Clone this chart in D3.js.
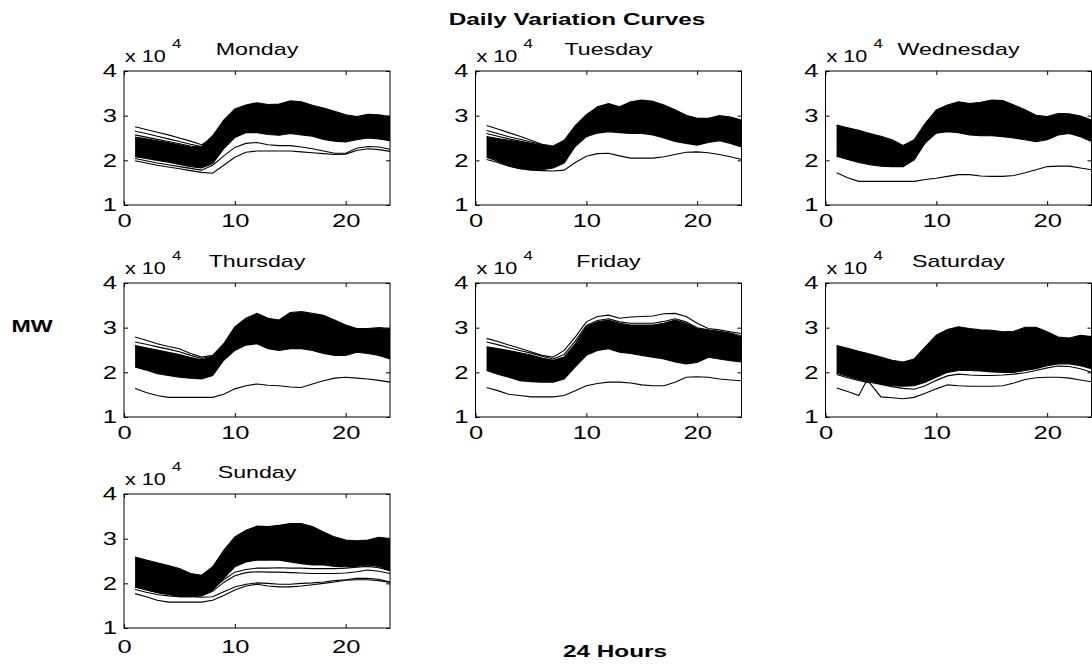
<!DOCTYPE html>
<html>
<head>
<meta charset="utf-8">
<script src="https://cdn.jsdelivr.net/npm/d3@7"></script>
<style>
  html, body { margin: 0; padding: 0; background: #fff; }
  svg { display: block; }
  text { font-family: "Liberation Sans", Arial, sans-serif; fill: #000; }
</style>
</head>
<body>
<script>
// ---------------- DATA ----------------
const hours = [1,2,3,4,5,6,7,8,9,10,11,12,13,14,15,16,17,18,19,20,21,22,23,24];
const dayNames = ["Monday","Tuesday","Wednesday","Thursday","Friday","Saturday","Sunday"];
const xTicks = [0, 10, 20];
const yTicks = [1, 2, 3, 4];
const figTitle = "Daily Variation Curves";
const yLabel = "MW";
const xLabel = "24 Hours";
const scaleNote = "x 10";
const scaleExp = "4";

// dense bundle of curves: upper and lower envelope (x 10^4 MW)
const monTop = [2.52,2.48,2.44,2.40,2.35,2.30,2.31,2.55,2.90,3.15,3.24,3.29,3.25,3.26,3.33,3.31,3.23,3.17,3.10,3.02,2.98,3.03,3.02,2.98];
const monBot = [2.08,2.04,2.00,1.96,1.91,1.86,1.83,1.93,2.26,2.51,2.62,2.62,2.58,2.56,2.60,2.57,2.54,2.47,2.43,2.41,2.46,2.50,2.48,2.44];
const monLines = [
  [2.75,2.69,2.63,2.57,2.50,2.43,2.35,2.50,2.85,3.12,3.22,3.27,3.20,3.22,3.28,3.25,3.18,3.10,3.04,2.96,2.95,2.98,2.96,2.93],
  [2.65,2.60,2.54,2.48,2.42,2.36,2.31,2.48,2.80,3.05,3.15,3.20,3.15,3.17,3.20,3.18,3.10,3.02,2.96,2.90,2.90,2.93,2.92,2.88],
  [2.57,2.52,2.47,2.42,2.37,2.32,2.28,2.45,2.75,3.00,3.10,3.12,3.10,3.10,3.14,3.12,3.05,2.98,2.90,2.85,2.87,2.90,2.88,2.84],
  [2.04,1.99,1.94,1.90,1.86,1.82,1.78,1.89,2.10,2.29,2.38,2.40,2.35,2.33,2.33,2.30,2.26,2.21,2.16,2.16,2.27,2.31,2.30,2.25],
  [1.99,1.94,1.89,1.85,1.81,1.77,1.73,1.71,1.89,2.07,2.18,2.21,2.21,2.21,2.21,2.19,2.17,2.15,2.13,2.14,2.22,2.26,2.24,2.20]
];

const tueTop = [2.53,2.49,2.45,2.41,2.37,2.33,2.31,2.42,2.76,3.01,3.20,3.27,3.20,3.31,3.35,3.32,3.24,3.13,3.01,2.94,2.94,3.00,2.97,2.90];
const tueBot = [2.07,1.98,1.88,1.82,1.79,1.79,1.83,1.94,2.31,2.53,2.61,2.64,2.62,2.60,2.60,2.57,2.50,2.42,2.38,2.34,2.40,2.44,2.38,2.30];
const tueLines = [
  [2.78,2.70,2.62,2.54,2.45,2.36,2.32,2.45,2.78,3.02,3.18,3.25,3.18,3.28,3.32,3.30,3.22,3.11,3.00,2.93,2.93,2.98,2.95,2.88],
  [2.67,2.60,2.53,2.47,2.41,2.35,2.30,2.42,2.72,2.98,3.12,3.20,3.12,3.20,3.25,3.22,3.15,3.05,2.95,2.88,2.88,2.93,2.90,2.84],
  [2.60,2.54,2.48,2.43,2.38,2.33,2.29,2.40,2.70,2.95,3.08,3.14,3.08,3.14,3.18,3.16,3.10,3.00,2.91,2.85,2.85,2.90,2.87,2.80],
  [2.02,1.95,1.87,1.81,1.78,1.77,1.76,1.78,1.95,2.09,2.15,2.16,2.10,2.05,2.05,2.05,2.08,2.13,2.18,2.19,2.17,2.13,2.08,2.02]
];

const wedTop = [2.79,2.73,2.67,2.60,2.54,2.46,2.33,2.46,2.83,3.13,3.24,3.31,3.27,3.30,3.35,3.34,3.24,3.13,3.01,2.98,3.05,3.04,2.99,2.90];
const wedBot = [2.09,2.02,1.95,1.90,1.87,1.86,1.86,2.01,2.39,2.61,2.64,2.62,2.57,2.55,2.55,2.53,2.50,2.46,2.42,2.46,2.57,2.60,2.53,2.42];
const wedLines = [
  [1.72,1.61,1.53,1.53,1.53,1.53,1.53,1.53,1.57,1.60,1.64,1.68,1.68,1.65,1.64,1.64,1.66,1.72,1.79,1.86,1.87,1.87,1.83,1.79]
];

const thuTop = [2.60,2.55,2.50,2.45,2.40,2.33,2.28,2.35,2.62,3.00,3.20,3.30,3.20,3.16,3.32,3.34,3.30,3.26,3.15,3.05,2.97,2.97,2.98,2.96];
const thuBot = [2.12,2.05,1.97,1.93,1.89,1.87,1.85,1.93,2.27,2.49,2.61,2.64,2.53,2.49,2.53,2.53,2.49,2.42,2.38,2.38,2.45,2.42,2.38,2.30];
const thuLines = [
  [2.79,2.72,2.64,2.58,2.53,2.42,2.34,2.38,2.64,3.02,3.21,3.32,3.21,3.17,3.34,3.36,3.32,3.28,3.17,3.06,2.98,2.98,3.00,2.98],
  [2.68,2.63,2.57,2.52,2.46,2.38,2.31,2.36,2.62,3.00,3.19,3.30,3.19,3.15,3.31,3.33,3.29,3.25,3.14,3.04,2.96,2.96,2.97,2.95],
  [1.64,1.55,1.48,1.44,1.44,1.44,1.44,1.44,1.51,1.63,1.70,1.74,1.71,1.70,1.67,1.66,1.74,1.81,1.87,1.89,1.87,1.85,1.82,1.78]
];

const friTop = [2.57,2.53,2.49,2.44,2.39,2.32,2.27,2.34,2.64,3.02,3.13,3.17,3.10,3.06,3.06,3.06,3.10,3.17,3.10,2.98,2.94,2.91,2.87,2.79];
const friBot = [2.04,1.96,1.89,1.81,1.79,1.78,1.78,1.85,2.12,2.38,2.49,2.53,2.45,2.42,2.38,2.34,2.30,2.23,2.19,2.22,2.34,2.30,2.26,2.23];
const friLines = [
  [2.76,2.69,2.61,2.54,2.46,2.38,2.34,2.49,2.79,3.13,3.25,3.28,3.21,3.24,3.25,3.26,3.31,3.32,3.25,3.10,2.98,2.95,2.91,2.87],
  [2.68,2.62,2.55,2.49,2.43,2.36,2.30,2.40,2.70,3.05,3.16,3.20,3.13,3.10,3.10,3.10,3.14,3.20,3.13,3.00,2.95,2.92,2.88,2.82],
  [1.66,1.59,1.51,1.48,1.45,1.45,1.45,1.48,1.59,1.70,1.75,1.78,1.78,1.76,1.72,1.70,1.70,1.78,1.89,1.90,1.89,1.85,1.83,1.81]
];

const satTop = [2.60,2.54,2.47,2.41,2.34,2.27,2.23,2.30,2.57,2.83,2.96,3.02,2.98,2.95,2.94,2.91,2.92,3.01,3.01,2.91,2.79,2.77,2.83,2.80];
const satBot = [2.00,1.93,1.85,1.80,1.74,1.70,1.69,1.70,1.78,1.89,2.00,2.04,2.04,2.03,2.01,2.00,2.00,2.04,2.08,2.15,2.19,2.19,2.15,2.08];
const satLines = [
  [1.65,1.57,1.48,1.95,1.90,1.85,1.80,1.82,1.95,2.10,2.20,2.25,2.25,2.24,2.22,2.20,2.20,2.25,2.30,2.32,2.30,2.28,2.25,2.20],
  [1.95,1.88,1.82,1.76,1.45,1.43,1.41,1.44,1.53,1.63,1.72,1.70,1.69,1.69,1.69,1.70,1.76,1.84,1.88,1.89,1.89,1.87,1.83,1.79],
  [1.98,1.91,1.84,1.78,1.73,1.68,1.64,1.62,1.70,1.82,1.92,1.96,1.94,1.93,1.93,1.94,1.96,1.99,2.04,2.10,2.14,2.13,2.08,2.00]
];

const sunTop = [2.59,2.52,2.46,2.40,2.33,2.22,2.18,2.37,2.74,3.04,3.19,3.28,3.27,3.30,3.34,3.34,3.27,3.15,3.04,2.97,2.95,2.97,3.03,3.00];
const sunBot = [1.92,1.85,1.79,1.75,1.70,1.70,1.73,1.85,2.11,2.37,2.48,2.52,2.52,2.52,2.48,2.44,2.41,2.41,2.38,2.37,2.38,2.41,2.38,2.29];
const sunLines = [
  [1.95,1.90,1.84,1.80,1.76,1.74,1.76,1.88,2.08,2.25,2.31,2.34,2.34,2.35,2.34,2.34,2.33,2.33,2.33,2.34,2.36,2.38,2.35,2.28],
  [1.92,1.86,1.80,1.76,1.72,1.71,1.72,1.82,2.02,2.17,2.24,2.26,2.25,2.25,2.24,2.23,2.22,2.22,2.22,2.23,2.26,2.30,2.27,2.22],
  [1.86,1.80,1.75,1.72,1.70,1.70,1.69,1.70,1.81,1.92,1.98,2.01,2.00,1.98,1.98,2.00,2.01,2.03,2.06,2.08,2.11,2.11,2.09,2.03],
  [1.77,1.70,1.62,1.58,1.58,1.58,1.58,1.62,1.73,1.85,1.94,1.98,1.94,1.92,1.92,1.94,1.97,2.00,2.03,2.07,2.08,2.08,2.06,2.02]
];

const panels = [
  {name: dayNames[0], top: monTop, bot: monBot, lines: monLines},
  {name: dayNames[1], top: tueTop, bot: tueBot, lines: tueLines},
  {name: dayNames[2], top: wedTop, bot: wedBot, lines: wedLines},
  {name: dayNames[3], top: thuTop, bot: thuBot, lines: thuLines},
  {name: dayNames[4], top: friTop, bot: friBot, lines: friLines},
  {name: dayNames[5], top: satTop, bot: satBot, lines: satLines},
  {name: dayNames[6], top: sunTop, bot: sunBot, lines: sunLines}
];

// ---------------- LAYOUT ----------------
const W = 1092, H = 667;
const colLeft = [124, 475.5, 825.5];
const rowTop = [71, 283, 494];
const pw = 266, ph = 134;
const labelGap = [9, 9, 12];
const SX = 1.42; // horizontal text stretch of the original bitmap

const svg = d3.select("body").append("svg").attr("width", W).attr("height", H);
svg.append("rect").attr("width", W).attr("height", H).attr("fill", "#fff");

function stretched(g, str, x, y, size, weight, anchor, sx) {
  return g.append("text")
    .attr("transform", `translate(${x},${y}) scale(${sx || SX},1)`)
    .attr("font-size", size)
    .attr("font-weight", weight || "normal")
    .attr("text-anchor", anchor || "start")
    .text(str);
}

panels.forEach((p, i) => {
  const r = Math.floor(i / 3), c = i % 3;
  const left = colLeft[c], top = rowTop[r];
  const x = d3.scaleLinear().domain([0, 24]).range([left, left + pw]);
  const y = d3.scaleLinear().domain([1, 4]).range([top + ph, top]);
  const g = svg.append("g");

  // dense band of curves
  const area = d3.area()
    .x((d, k) => x(hours[k]))
    .y0((d, k) => y(p.bot[k]))
    .y1(d => y(d));
  g.append("path").datum(p.top).attr("d", area).attr("fill", "#000");

  const line = d3.line().x((d, k) => x(hours[k])).y(d => y(d));
  [p.top, p.bot].concat(p.lines).forEach(arr => {
    g.append("path").datum(arr).attr("d", line)
      .attr("fill", "none").attr("stroke", "#000").attr("stroke-width", 1.1);
  });

  // axes (ticks inside, MATLAB style)
  const ax = svg.append("g");
  const bottom = ax.append("g").attr("transform", `translate(0,${top + ph})`)
    .call(d3.axisBottom(x).tickValues(xTicks).tickSizeInner(-4).tickSizeOuter(0).tickPadding(labelGap[r]).tickFormat(d3.format("d")));
  const topAx = ax.append("g").attr("transform", `translate(0,${top})`)
    .call(d3.axisTop(x).tickValues(xTicks).tickSizeInner(-4).tickSizeOuter(0).tickFormat(""));
  const leftAx = ax.append("g").attr("transform", `translate(${left},0)`)
    .call(d3.axisLeft(y).tickValues(yTicks).tickSizeInner(-4).tickSizeOuter(0).tickPadding(7 / SX).tickFormat(d3.format("d")));
  const rightAx = ax.append("g").attr("transform", `translate(${left + pw},0)`)
    .call(d3.axisRight(y).tickValues(yTicks).tickSizeInner(-4).tickSizeOuter(0).tickFormat(""));
  ax.selectAll(".domain").remove();
  ax.selectAll(".tick line").attr("stroke", "#000");
  ax.selectAll(".tick text")
    .attr("font-family", '"Liberation Sans", Arial, sans-serif')
    .attr("font-size", 18).attr("fill", "#000")
    .attr("transform", `scale(${SX},1)`);

  g.append("rect").attr("x", left).attr("y", top).attr("width", pw).attr("height", ph)
    .attr("fill", "none").attr("stroke", "#000").attr("stroke-width", 1);

  // titles and exponent notes
  stretched(svg, p.name, left + pw / 2, top - 16, 16, "normal", "middle", 1.45);
  stretched(svg, scaleNote, left + 1, top - 9, 16, "normal", "start", 1.35);
  stretched(svg, scaleExp, left + 48, top - 23, 13, "normal", "start", 1.3);
});

stretched(svg, figTitle, 577, 25, 16, "bold", "middle", 1.52);
stretched(svg, yLabel, 32, 332, 16, "bold", "middle", 1.45);
stretched(svg, xLabel, 615, 657, 16, "bold", "middle", 1.52);
</script>
</body>
</html>
